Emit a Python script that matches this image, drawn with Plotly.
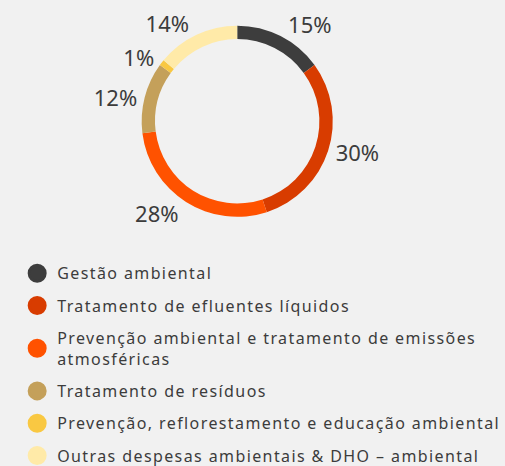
import plotly.graph_objects as go

categories = [
    "Gestão ambiental",
    "Tratamento de efluentes líquidos",
    "Prevenção ambiental e tratamento de emissões<br>atmosféricas",
    "Tratamento de resíduos",
    "Prevenção, reflorestamento e educação ambiental",
    "Outras despesas ambientais & DHO – ambiental",
]
values = [15, 30, 28, 12, 1, 14]
colors = ["#3d3d3d", "#d83c00", "#ff5200", "#c4a05a", "#f9c842", "#ffeaa8"]

BG = "#f1f1f1"
TXT = "#3c3c3c"

fig = go.Figure()
fig.add_trace(go.Pie(
    values=values,
    labels=categories,
    sort=False,
    direction="clockwise",
    rotation=0,
    hole=0.86,
    marker=dict(colors=colors, line=dict(width=0)),
    texttemplate="%{value}%",
    textposition="outside",
    textfont=dict(family="Noto Sans", size=22, color=TXT),
    showlegend=False,
    domain=dict(x=[0.2805, 0.659], y=[0.534, 0.9455]),
))

for i, (name, c) in enumerate(zip(categories, colors)):
    fig.add_trace(go.Scatter(
        x=[None], y=[None], mode="markers", name=name,
        legendgroup=f"g{i}",
        marker=dict(symbol="circle", size=16, color=c, line=dict(width=3, color=c)),
        showlegend=True,
    ))

fig.update_layout(
    width=505, height=466,
    margin=dict(l=0, r=0, t=0, b=0, autoexpand=False),
    paper_bgcolor=BG, plot_bgcolor=BG,
    xaxis=dict(visible=False), yaxis=dict(visible=False),
    legend=dict(
        x=0.034, y=0.45, xanchor="left", yanchor="top",
        font=dict(family="Noto Sans", size=16, color=TXT),
        tracegroupgap=8.5, itemwidth=30, bgcolor="rgba(0,0,0,0)",
    ),
)

fig.write_html(
    "out.html",
    config={"displayModeBar": False},
    post_script=(
        "document.body.style.margin='0';"
        "document.body.style.overflow='hidden';"
        "document.body.style.background='#f1f1f1';"
        "document.querySelectorAll('.legend [clip-path]').forEach(function(e){e.removeAttribute('clip-path');});"
        "document.querySelectorAll('.legend .scrollbar').forEach(function(e){e.style.display='none';});"
        "document.querySelectorAll('.legendtext').forEach(function(t){t.style.letterSpacing='1.4px';});"
    ),
)
